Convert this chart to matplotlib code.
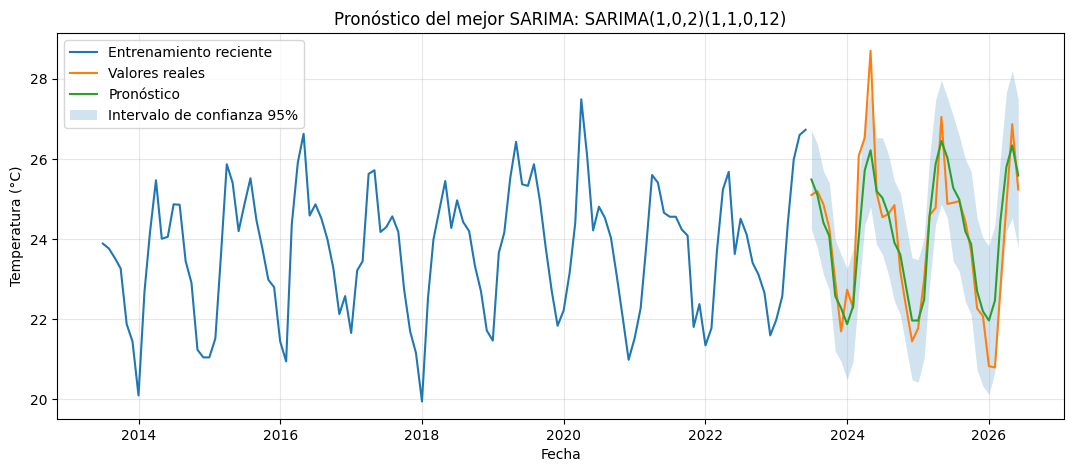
import matplotlib
matplotlib.use("Agg")
import matplotlib.pyplot as plt
import pandas as pd
import numpy as np

train_start = "2013-07-01"
train_values = [
    23.89, 23.77, 23.53, 23.27, 21.88, 21.45, 20.10, 22.70, 24.16, 25.47, 24.01, 24.06,
    24.87, 24.86, 23.45, 22.91, 21.24, 21.05, 21.05, 21.52, 23.53, 25.87, 25.41, 24.20,
    24.87, 25.52, 24.47, 23.78, 22.99, 22.80, 21.45, 20.95, 24.37, 25.91, 26.63, 24.59,
    24.87, 24.51, 23.99, 23.28, 22.13, 22.58, 21.66, 23.22, 23.45, 25.63, 25.72, 24.18,
    24.30, 24.57, 24.18, 22.74, 21.70, 21.16, 19.95, 22.53, 23.99, 24.74, 25.45, 24.28,
    24.97, 24.43, 24.20, 23.33, 22.70, 21.72, 21.47, 23.66, 24.16, 25.53, 26.43, 25.37,
    25.33, 25.87, 24.95, 23.78, 22.70, 21.84, 22.22, 23.16, 24.41, 27.49, 26.08, 24.22,
    24.81, 24.53, 24.03, 23.08, 22.03, 20.99, 21.53, 22.28, 23.78, 25.60, 25.41, 24.66,
    24.56, 24.56, 24.24, 24.09, 21.81, 22.38, 21.35, 21.78, 23.70, 25.24, 25.68, 23.63,
    24.51, 24.12, 23.41, 23.12, 22.66, 21.60, 21.99, 22.58, 24.37, 25.99, 26.60, 26.73,
]

test_start = "2023-07-01"
real_values = [
    25.10, 25.20, 24.87, 24.28, 22.95, 21.70, 22.74, 22.28, 26.08, 26.53, 28.70, 25.16,
    24.55, 24.63, 24.85, 23.20, 22.28, 21.45, 21.78, 23.00, 24.60, 24.78, 27.05, 24.88,
    24.91, 24.95, 24.45, 23.70, 22.27, 22.08, 20.83, 20.80, 22.75, 24.85, 26.87, 25.24,
]
forecast_values = [
    25.49, 25.10, 24.41, 24.08, 22.58, 22.28, 21.88, 22.33, 24.03, 25.72, 26.22, 25.20,
    25.03, 24.62, 23.91, 23.62, 22.78, 21.97, 21.97, 22.49, 24.57, 25.87, 26.45, 26.03,
    25.28, 24.99, 24.20, 23.88, 22.70, 22.20, 21.97, 22.47, 24.45, 25.80, 26.34, 25.59,
]
ci_lower = [
    24.24, 23.78, 23.12, 22.74, 21.20, 20.95, 20.49, 20.95, 22.65, 24.34, 24.80, 23.87,
    23.62, 23.12, 22.45, 22.12, 21.28, 20.49, 20.43, 21.03, 22.87, 24.37, 24.87, 24.53,
    23.45, 23.20, 22.45, 22.12, 20.74, 20.33, 20.12, 20.70, 22.62, 24.20, 24.53, 23.78,
]
ci_upper = [
    26.72, 26.37, 25.70, 25.41, 23.99, 23.62, 23.26, 23.74, 25.41, 27.10, 27.65, 26.53,
    26.53, 26.12, 25.45, 25.16, 24.33, 23.53, 23.49, 24.03, 26.03, 27.47, 27.97, 27.53,
    27.08, 26.58, 26.00, 25.70, 24.53, 24.03, 23.83, 24.37, 26.03, 27.66, 28.20, 27.49,
]

train_idx = pd.date_range(train_start, periods=len(train_values), freq="MS")
test_idx = pd.date_range(test_start, periods=len(real_values), freq="MS")

fig = plt.figure(figsize=(10.74, 4.71), dpi=100)
ax = fig.add_axes([0.0531, 0.1104, 0.9376, 0.8189])

ax.plot(train_idx, train_values, color="C0", label="Entrenamiento reciente")
ax.plot(test_idx, real_values, color="C1", label="Valores reales")
ax.plot(test_idx, forecast_values, color="C2", label="Pronóstico")
ax.fill_between(test_idx, ci_lower, ci_upper, color="C0", alpha=0.2, linewidth=0,
                label="Intervalo de confianza 95%")

ax.set_title("Pronóstico del mejor SARIMA: SARIMA(1,0,2)(1,1,0,12)", fontsize=12)
ax.set_xlabel("Fecha")
ax.set_ylabel("Temperatura (°C)")
ax.grid(True, alpha=0.3)
ax.legend(loc="upper left")

fig.savefig("out.png", dpi=100)
